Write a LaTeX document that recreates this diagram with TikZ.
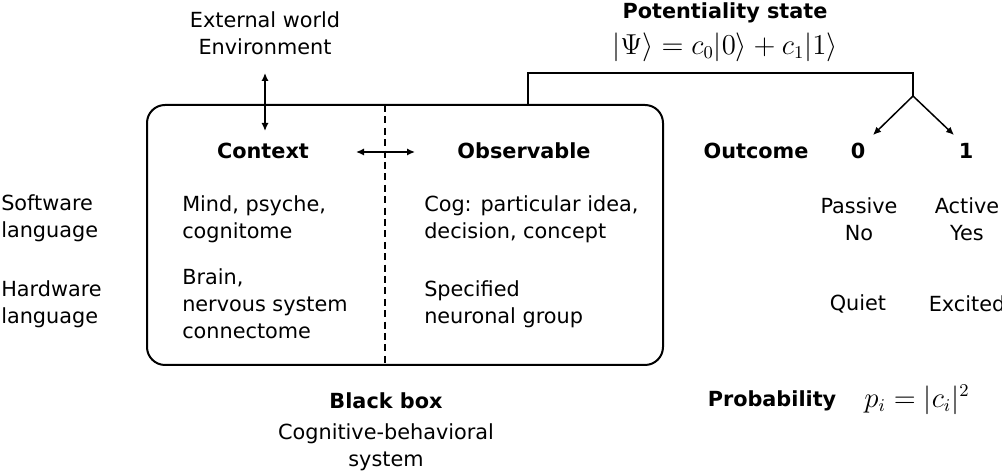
\documentclass[tikz,border=0pt]{standalone}
\usepackage{fontspec}
\setmainfont{DejaVu Sans}
\usetikzlibrary{arrows.meta}

\tikzset{every picture/.style={line width=0.75pt}}
\tikzset{
  lbl/.style={inner sep=0.75pt, align=center, font=\fontsize{10.4}{13.6}\selectfont},
  hd/.style={lbl, font=\fontsize{10.4}{13.6}\selectfont\bfseries},
  eq/.style={inner sep=0.75pt, font=\fontsize{13.5}{16}\selectfont},
  dbl/.style={{Latex[length=4pt,width=3.6pt]}-{Latex[length=4pt,width=3.6pt]}},
  tip/.style={-{Latex[length=4pt,width=3.6pt]}}
}

\begin{document}
\begin{tikzpicture}[x=0.5pt,y=0.5pt,yscale=-1]
\useasboundingbox (0,0) rectangle (1002,474);

%Black box
\draw[line width=1pt, rounded corners=9pt] (147,105) rectangle (663,365);
%Dashed divider
\draw[dash pattern=on 3.5pt off 2.2pt] (385,105) -- (385,365);

% Text Node
\node[lbl] (ext) at (265,33) {External world\\Environment};
\node[hd] (ctx) at (263,151) {Context};
\node[hd] (obs) at (524,151) {Observable};
\node[hd] (pot) at (725,13) {Potentiality state};
\node[eq] (psi) at (725,47) {$|\Psi\rangle = c_0|0\rangle + c_1|1\rangle$};
\node[hd] (outc) at (756,151) {Outcome};
\node[hd] (out0) at (858,151) {0};
\node[hd] (out1) at (966,151) {1};

\node[lbl, anchor=west, align=left] (soft) at (-1,218) {Software\\language};
\node[lbl, anchor=west, align=left] (hard) at (-1,304) {Hardware\\language};
\node[lbl, anchor=west, align=left] (mind) at (180,219) {Mind, psyche,\\cognitome};
\node[lbl, anchor=west, align=left] (brain) at (180,304) {Brain,\\nervous system\\connectome};
\node[lbl, anchor=west, align=left] (cog) at (422,219) {Cog: particular idea,\\decision, concept};
\node[lbl, anchor=west, align=left] (spec) at (422,304) {Specified\\neuronal group};
\node[lbl] (pas) at (859,219) {Passive\\No};
\node[lbl] (act) at (967,219) {Active\\Yes};
\node[lbl] (quiet) at (858,304) {Quiet};
\node[lbl] (exc) at (967,304) {Excited};

\node[hd] (bbox) at (386,401) {Black box};
\node[lbl] (cbs) at (386,447) {Cognitive-behavioral\\system};
\node[hd] (prob) at (772,401) {Probability};
\node[eq] (pi) at (917,400) {$p_i = |c_i|^2$};

%Arrows
\coordinate (envtip) at (265,73);
\coordinate (ctxtip) at (265,131);
\draw[dbl] (envtip) -- (ctxtip);
\coordinate (ltip) at (356,152);
\coordinate (rtip) at (415,152);
\draw[dbl] (ltip) -- (rtip);

%Potentiality bracket
\coordinate (boxtop) at (528,105);
\coordinate (fork) at (913,96);
\coordinate (tip0) at (873,135);
\coordinate (tip1) at (954,135);
\draw[line width=1pt] (boxtop) -- (528,73) -- (913,73) -- (fork);
\draw[tip] (fork) -- (tip0);
\draw[tip] (fork) -- (tip1);

\end{tikzpicture}
\end{document}
